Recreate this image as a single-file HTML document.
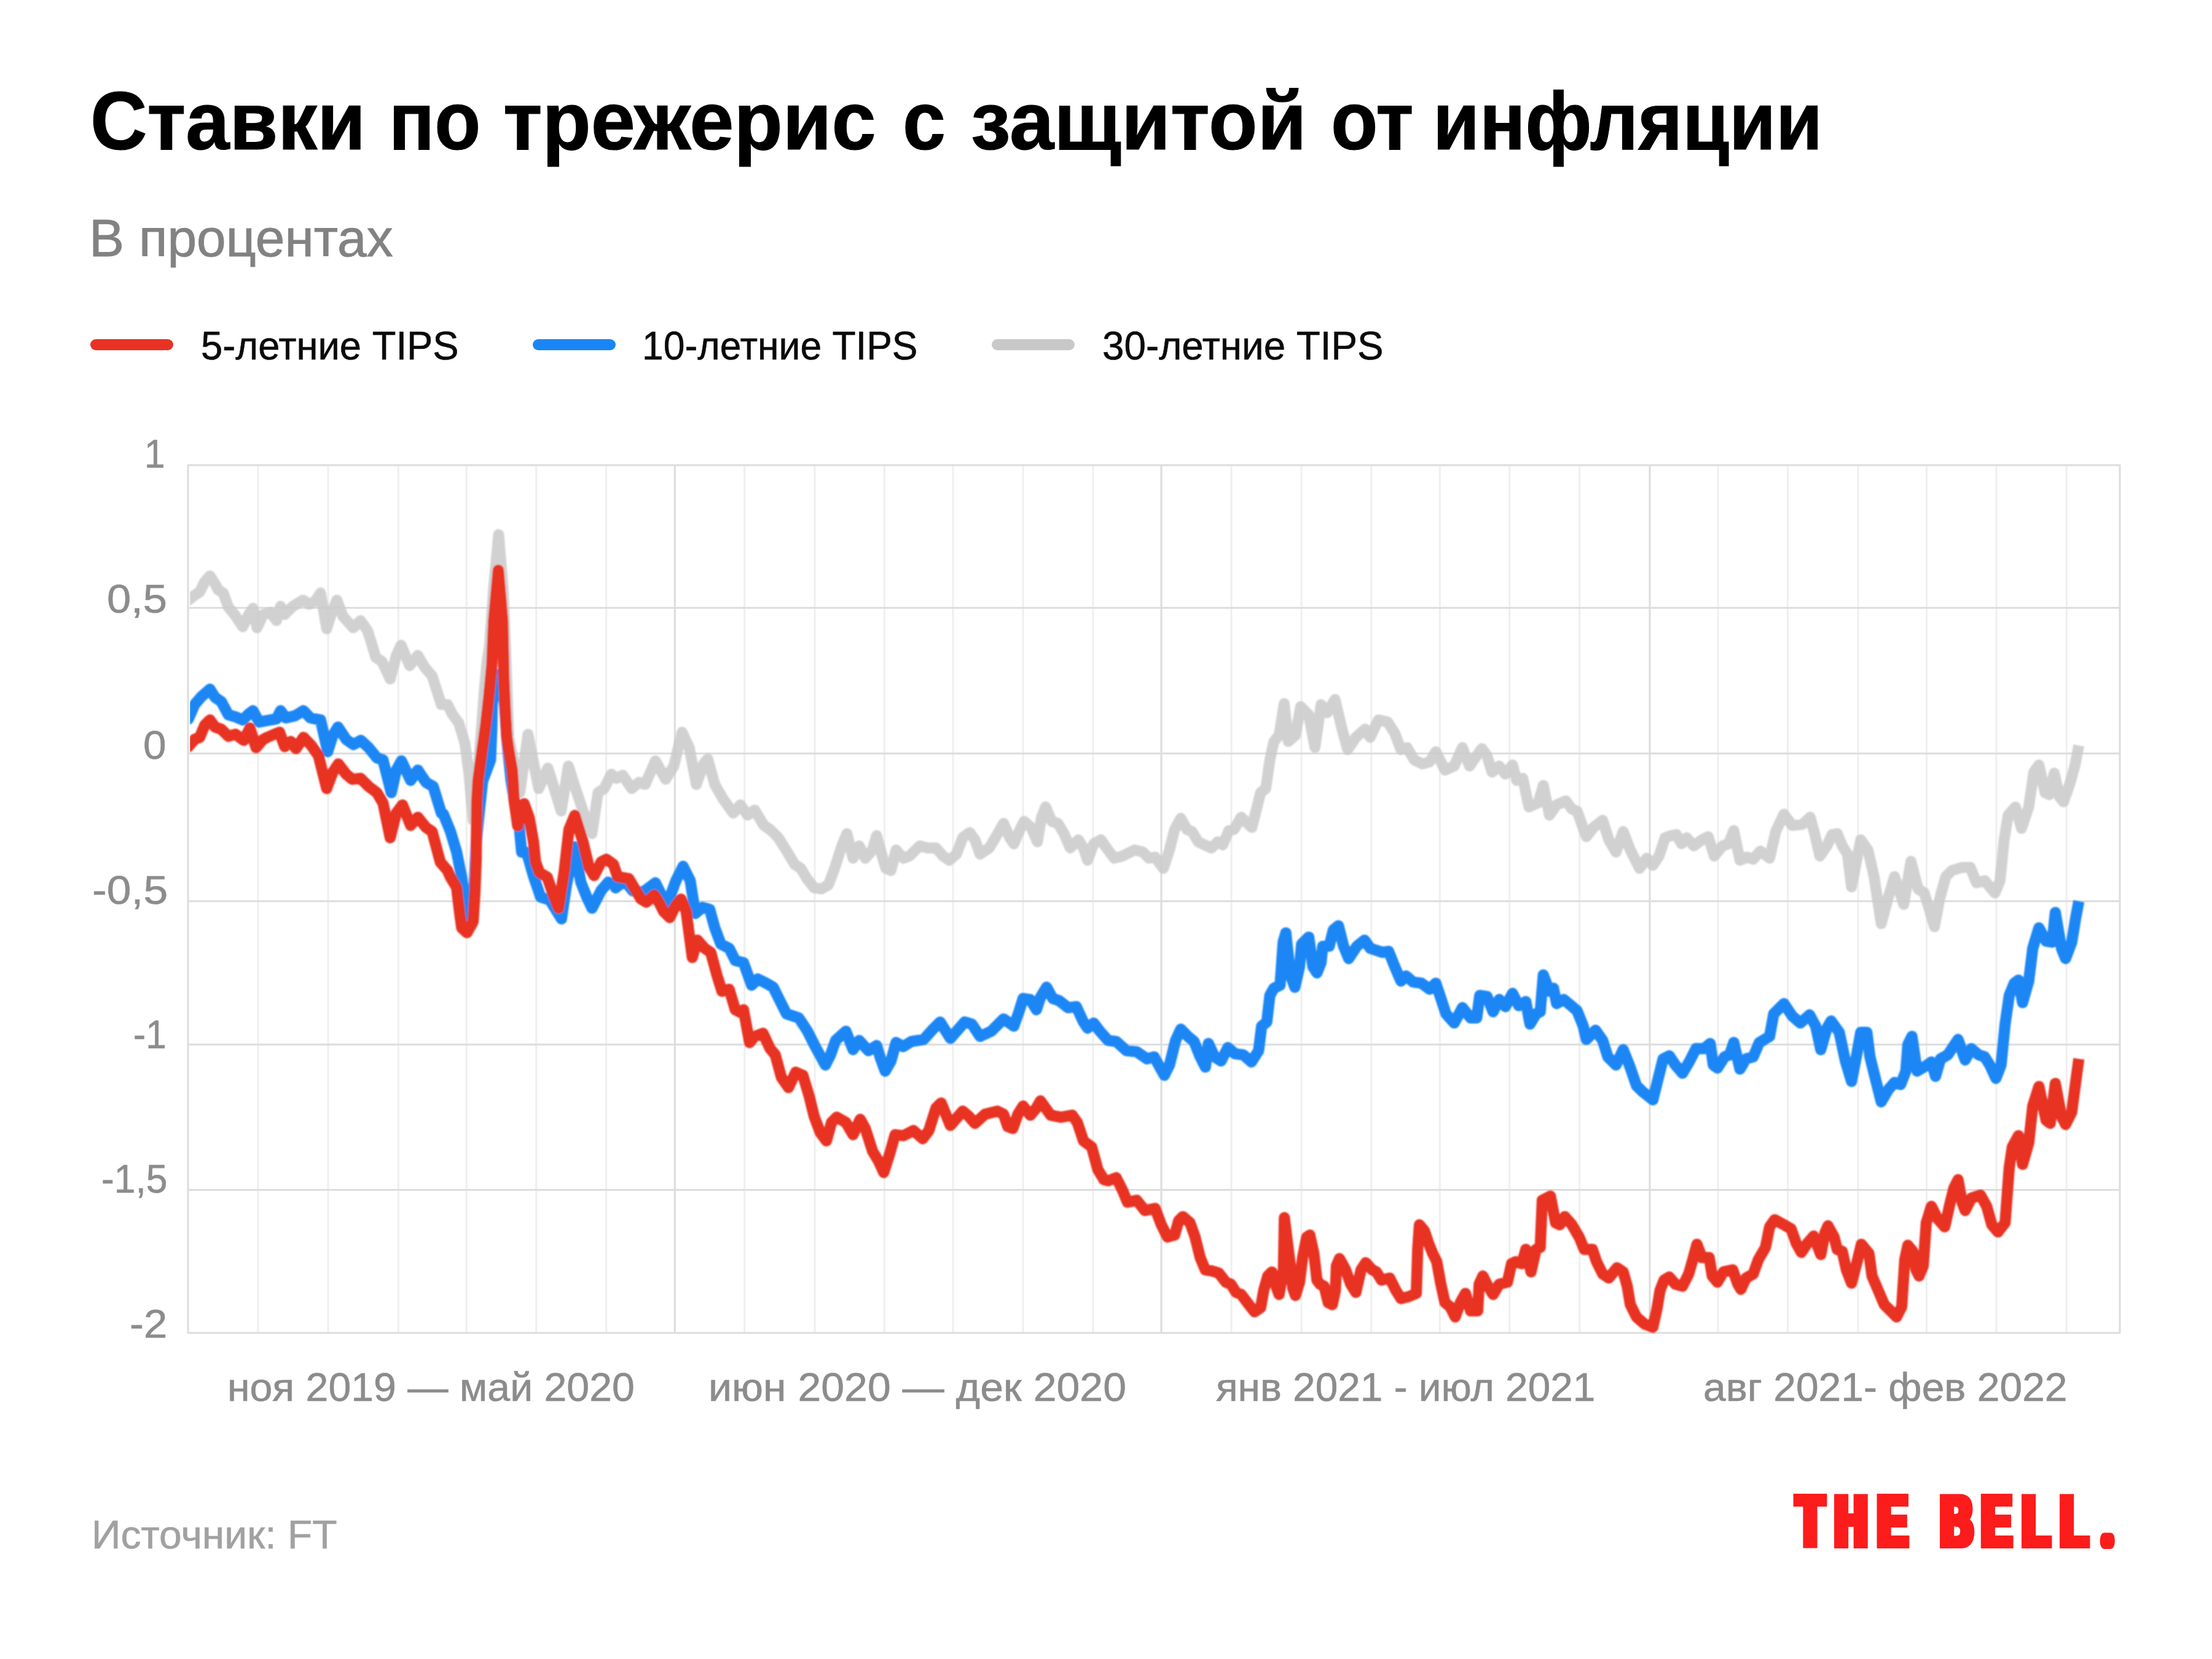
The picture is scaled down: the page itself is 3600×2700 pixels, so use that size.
<!DOCTYPE html>
<html lang="ru">
<head>
<meta charset="utf-8">
<title>Ставки по трежерис с защитой от инфляции</title>
<style>
html,body{margin:0;padding:0;background:#fff;}
body{width:3600px;height:2700px;position:relative;overflow:hidden;font-family:"Liberation Sans",sans-serif;}
.t{position:absolute;white-space:nowrap;line-height:1;transform-origin:0 0;}
.b{-webkit-text-stroke:1.2px #000;}
.r{-webkit-text-stroke:0.6px currentColor;}
.r2{-webkit-text-stroke:0.9px currentColor;}
.sw{position:absolute;height:18px;width:135px;border-radius:9px;top:551.6px;}
svg{position:absolute;left:0;top:0;}
</style>
</head>
<body>
<div class="t b" id="t1" style="left:147.3px;top:129.8px;font-size:134px;font-weight:bold;color:#000;transform:scaleX(0.9558)">Ставки</div>
<div class="t b" id="t2" style="left:632.8px;top:129.8px;font-size:134px;font-weight:bold;color:#000;transform:scaleX(0.9161)">по</div>
<div class="t b" id="t3" style="left:819.1px;top:129.8px;font-size:134px;font-weight:bold;color:#000;transform:scaleX(0.9677)">трежерис</div>
<div class="t b" id="t4" style="left:1468.8px;top:129.8px;font-size:134px;font-weight:bold;color:#000;transform:scaleX(0.9385)">с</div>
<div class="t b" id="t5" style="left:1579.6px;top:129.8px;font-size:134px;font-weight:bold;color:#000;transform:scaleX(0.9709)">защитой</div>
<div class="t b" id="t6" style="left:2165.8px;top:129.8px;font-size:134px;font-weight:bold;color:#000;transform:scaleX(0.9333)">от</div>
<div class="t b" id="t7" style="left:2331.7px;top:129.8px;font-size:134px;font-weight:bold;color:#000;transform:scaleX(0.9223)">инфляции</div>
<div class="t r2" id="sub" style="left:145.2px;top:344.0px;font-size:86px;font-weight:normal;color:#828282;transform:scaleX(0.9965)">В процентах</div>
<div class="t r" id="lg1" style="left:327.1px;top:529.8px;font-size:65px;font-weight:normal;color:#0a0a0a;transform:scaleX(0.9748)">5-летние TIPS</div>
<div class="t r" id="lg2" style="left:1044.7px;top:529.8px;font-size:65px;font-weight:normal;color:#0a0a0a;transform:scaleX(0.9614)">10-летние TIPS</div>
<div class="t r" id="lg3" style="left:1793.8px;top:529.8px;font-size:65px;font-weight:normal;color:#0a0a0a;transform:scaleX(0.9807)">30-летние TIPS</div>
<div class="t r" id="x1" style="left:369.7px;top:2224.7px;font-size:65px;font-weight:normal;color:#8c8c8c;transform:scaleX(1.0184)">ноя 2019 — май 2020</div>
<div class="t r" id="x2" style="left:1152.8px;top:2224.7px;font-size:65px;font-weight:normal;color:#8c8c8c;transform:scaleX(1.0463)">июн 2020 — дек 2020</div>
<div class="t r" id="x3" style="left:1979.0px;top:2224.7px;font-size:65px;font-weight:normal;color:#8c8c8c;transform:scaleX(1.0116)">янв 2021 - июл 2021</div>
<div class="t r" id="x4" style="left:2771.7px;top:2224.7px;font-size:65px;font-weight:normal;color:#8c8c8c;transform:scaleX(1.0154)">авг 2021- фев 2022</div>
<div class="t r" id="src" style="left:149.1px;top:2464.8px;font-size:65px;font-weight:normal;color:#a2a0a1;transform:scaleX(1.0168)">Источник: FT</div>
<div class="t r" id="y0" style="left:235.3px;top:705.8px;font-size:65px;font-weight:normal;color:#8c8c8c;transform:scaleX(0.9300)">1</div>
<div class="t r" id="y1" style="left:174.0px;top:941.6px;font-size:65px;font-weight:normal;color:#8c8c8c;transform:scaleX(1.0847)">0,5</div>
<div class="t r" id="y2" style="left:232.9px;top:1179.5px;font-size:65px;font-weight:normal;color:#8c8c8c;transform:scaleX(1.0387)">0</div>
<div class="t r" id="y3" style="left:149.7px;top:1416.0px;font-size:65px;font-weight:normal;color:#8c8c8c;transform:scaleX(1.1000)">-0,5</div>
<div class="t r" id="y4" style="left:216.5px;top:1651.0px;font-size:65px;font-weight:normal;color:#8c8c8c;transform:scaleX(0.9300)">-1</div>
<div class="t r" id="y5" style="left:164.9px;top:1886.2px;font-size:65px;font-weight:normal;color:#8c8c8c;transform:scaleX(0.9604)">-1,5</div>
<div class="t r" id="y6" style="left:211.0px;top:2122.1px;font-size:65px;font-weight:normal;color:#8c8c8c;transform:scaleX(1.0596)">-2</div>
<div class="sw" style="left:146.8px;background:#e83223"></div>
<div class="sw" style="left:866.5px;background:#1a86f5"></div>
<div class="sw" style="left:1613.7px;background:#c8c8c8"></div>
<svg width="3600" height="2700" viewBox="0 0 3600 2700">
<g id="grid">
<line x1="420.0" y1="757" x2="420.0" y2="2169.3" stroke="#efefef" stroke-width="3"/>
<line x1="534.0" y1="757" x2="534.0" y2="2169.3" stroke="#efefef" stroke-width="3"/>
<line x1="648.3" y1="757" x2="648.3" y2="2169.3" stroke="#efefef" stroke-width="3"/>
<line x1="759.3" y1="757" x2="759.3" y2="2169.3" stroke="#efefef" stroke-width="3"/>
<line x1="872.7" y1="757" x2="872.7" y2="2169.3" stroke="#efefef" stroke-width="3"/>
<line x1="986.7" y1="757" x2="986.7" y2="2169.3" stroke="#efefef" stroke-width="3"/>
<line x1="1211.7" y1="757" x2="1211.7" y2="2169.3" stroke="#efefef" stroke-width="3"/>
<line x1="1326.0" y1="757" x2="1326.0" y2="2169.3" stroke="#efefef" stroke-width="3"/>
<line x1="1439.3" y1="757" x2="1439.3" y2="2169.3" stroke="#efefef" stroke-width="3"/>
<line x1="1551.0" y1="757" x2="1551.0" y2="2169.3" stroke="#efefef" stroke-width="3"/>
<line x1="1665.0" y1="757" x2="1665.0" y2="2169.3" stroke="#efefef" stroke-width="3"/>
<line x1="1779.0" y1="757" x2="1779.0" y2="2169.3" stroke="#efefef" stroke-width="3"/>
<line x1="2004.0" y1="757" x2="2004.0" y2="2169.3" stroke="#efefef" stroke-width="3"/>
<line x1="2118.0" y1="757" x2="2118.0" y2="2169.3" stroke="#efefef" stroke-width="3"/>
<line x1="2231.7" y1="757" x2="2231.7" y2="2169.3" stroke="#efefef" stroke-width="3"/>
<line x1="2343.3" y1="757" x2="2343.3" y2="2169.3" stroke="#efefef" stroke-width="3"/>
<line x1="2456.7" y1="757" x2="2456.7" y2="2169.3" stroke="#efefef" stroke-width="3"/>
<line x1="2570.7" y1="757" x2="2570.7" y2="2169.3" stroke="#efefef" stroke-width="3"/>
<line x1="2796.0" y1="757" x2="2796.0" y2="2169.3" stroke="#efefef" stroke-width="3"/>
<line x1="2909.5" y1="757" x2="2909.5" y2="2169.3" stroke="#efefef" stroke-width="3"/>
<line x1="3024.0" y1="757" x2="3024.0" y2="2169.3" stroke="#efefef" stroke-width="3"/>
<line x1="3135.5" y1="757" x2="3135.5" y2="2169.3" stroke="#efefef" stroke-width="3"/>
<line x1="3249.0" y1="757" x2="3249.0" y2="2169.3" stroke="#efefef" stroke-width="3"/>
<line x1="3363.3" y1="757" x2="3363.3" y2="2169.3" stroke="#efefef" stroke-width="3"/>
<line x1="304.8" y1="757.0" x2="3451.2" y2="757.0" stroke="#dddddd" stroke-width="3.1"/>
<line x1="304.8" y1="989.3" x2="3451.2" y2="989.3" stroke="#dddddd" stroke-width="3.1"/>
<line x1="304.8" y1="1226.3" x2="3451.2" y2="1226.3" stroke="#dddddd" stroke-width="3.1"/>
<line x1="304.8" y1="1466.7" x2="3451.2" y2="1466.7" stroke="#dddddd" stroke-width="3.1"/>
<line x1="304.8" y1="1700.0" x2="3451.2" y2="1700.0" stroke="#dddddd" stroke-width="3.1"/>
<line x1="304.8" y1="1936.5" x2="3451.2" y2="1936.5" stroke="#dddddd" stroke-width="3.1"/>
<line x1="304.8" y1="2169.3" x2="3451.2" y2="2169.3" stroke="#dddddd" stroke-width="3.1"/>
<line x1="306.0" y1="757" x2="306.0" y2="2169.3" stroke="#dddddd" stroke-width="3.1"/>
<line x1="1098.3" y1="757" x2="1098.3" y2="2169.3" stroke="#dddddd" stroke-width="3.1"/>
<line x1="1890.0" y1="757" x2="1890.0" y2="2169.3" stroke="#dddddd" stroke-width="3.1"/>
<line x1="2685.0" y1="757" x2="2685.0" y2="2169.3" stroke="#dddddd" stroke-width="3.1"/>
<line x1="3450.0" y1="757" x2="3450.0" y2="2169.3" stroke="#dddddd" stroke-width="3.1"/>
</g>
<defs><filter id="soft" filterUnits="userSpaceOnUse" x="250" y="700" width="3250" height="1520"><feGaussianBlur stdDeviation="1.1"/></filter></defs>
<clipPath id="plot"><rect x="309.3" y="700" width="3160" height="1520"/></clipPath>
<g clip-path="url(#plot)"><g id="lines" filter="url(#soft)">
<path d="M300.0 976.7 L306.7 976.7 L315.0 970.0 L325.0 963.3 L333.3 946.7 L341.7 937.3 L350.0 950.0 L355.0 960.0 L363.3 965.0 L371.7 988.3 L381.7 1000.0 L395.0 1020.0 L405.0 1000.0 L411.7 990.0 L418.3 1021.7 L428.3 1000.0 L440.0 996.7 L450.0 1010.0 L456.7 986.7 L463.3 1000.0 L476.7 986.7 L493.3 976.7 L503.3 983.3 L513.3 978.3 L521.7 965.0 L531.7 1023.3 L540.0 996.7 L548.3 976.7 L558.3 1003.3 L575.0 1021.7 L586.7 1010.0 L598.3 1026.7 L611.7 1070.0 L621.7 1076.7 L635.0 1105.0 L645.0 1066.7 L652.7 1050.0 L666.7 1083.3 L680.0 1066.7 L691.7 1086.7 L703.3 1100.0 L718.3 1146.7 L728.3 1146.7 L736.7 1163.3 L746.7 1176.7 L756.7 1210.0 L763.3 1260.0 L770.0 1335.0 L775.0 1290.0 L780.5 1226.0 L784.6 1172.0 L788.7 1118.0 L792.7 1077.0 L796.8 1050.0 L803.0 960.0 L811.5 870.0 L819.0 960.0 L823.0 1060.0 L828.0 1200.0 L846.0 1290.0 L859.3 1195.0 L876.7 1283.3 L891.7 1250.0 L913.3 1320.0 L925.0 1246.7 L936.7 1283.3 L950.0 1323.3 L963.3 1356.7 L973.3 1290.0 L983.3 1283.3 L995.0 1260.0 L1003.3 1266.7 L1013.3 1261.7 L1028.3 1283.3 L1040.0 1273.3 L1050.0 1276.7 L1066.7 1238.3 L1083.3 1268.3 L1096.7 1246.7 L1110.0 1191.7 L1121.7 1216.7 L1133.3 1276.7 L1145.0 1243.3 L1151.7 1235.0 L1163.3 1276.7 L1176.7 1300.0 L1193.3 1323.3 L1205.0 1310.0 L1216.7 1326.7 L1228.3 1318.3 L1243.3 1343.3 L1253.3 1350.0 L1266.7 1363.3 L1283.3 1390.0 L1293.3 1406.7 L1303.3 1413.3 L1313.3 1430.0 L1325.0 1445.0 L1336.7 1446.7 L1348.3 1440.0 L1358.3 1413.3 L1370.0 1376.7 L1378.3 1356.7 L1388.3 1396.7 L1398.3 1376.7 L1408.3 1396.7 L1420.0 1383.3 L1426.7 1360.0 L1436.7 1396.7 L1441.7 1413.3 L1450.0 1416.7 L1458.3 1383.3 L1470.0 1396.7 L1480.0 1393.3 L1496.7 1376.7 L1510.0 1380.0 L1523.3 1380.0 L1535.0 1393.3 L1545.0 1400.0 L1556.7 1390.0 L1566.7 1363.3 L1578.3 1355.0 L1586.7 1366.7 L1595.0 1390.0 L1610.0 1380.0 L1620.0 1363.3 L1633.3 1340.0 L1643.3 1363.3 L1650.0 1373.3 L1660.0 1350.0 L1666.7 1336.7 L1678.3 1346.7 L1688.3 1370.0 L1695.0 1330.0 L1701.7 1313.3 L1711.7 1336.7 L1721.7 1340.0 L1731.7 1356.7 L1741.7 1380.0 L1755.0 1366.7 L1763.3 1380.0 L1770.0 1400.0 L1780.0 1373.3 L1791.7 1366.7 L1803.3 1383.3 L1813.3 1396.7 L1826.7 1393.3 L1846.7 1383.3 L1860.0 1386.7 L1870.0 1396.7 L1880.0 1395.0 L1893.3 1413.3 L1903.3 1383.3 L1911.7 1350.0 L1921.7 1331.7 L1931.7 1350.0 L1940.0 1353.3 L1950.0 1370.0 L1960.0 1375.0 L1971.7 1380.0 L1981.7 1370.0 L1990.0 1375.0 L2000.0 1351.7 L2008.3 1350.0 L2020.0 1330.0 L2030.0 1340.0 L2037.3 1346.7 L2045.0 1316.7 L2051.7 1290.0 L2060.0 1283.3 L2066.7 1236.7 L2073.3 1206.7 L2081.7 1196.7 L2090.0 1145.0 L2096.7 1206.7 L2108.3 1196.7 L2116.7 1150.0 L2130.0 1163.3 L2140.0 1216.7 L2150.0 1146.7 L2160.0 1160.0 L2172.7 1138.3 L2183.3 1183.3 L2193.3 1220.0 L2206.7 1200.0 L2221.7 1186.7 L2230.0 1200.0 L2243.3 1171.7 L2258.3 1175.0 L2270.0 1193.3 L2280.0 1220.0 L2290.0 1216.7 L2301.7 1236.7 L2315.0 1243.3 L2326.7 1240.0 L2336.7 1223.3 L2351.7 1253.3 L2366.7 1246.7 L2380.0 1216.7 L2391.7 1246.7 L2403.3 1230.0 L2411.7 1218.3 L2420.0 1230.0 L2428.3 1256.7 L2440.0 1246.7 L2450.0 1260.0 L2461.7 1245.0 L2468.3 1270.0 L2478.3 1266.7 L2488.3 1313.3 L2503.3 1306.7 L2511.7 1278.3 L2521.7 1326.7 L2533.3 1310.0 L2548.3 1303.3 L2558.3 1316.7 L2566.7 1320.0 L2581.7 1361.7 L2593.3 1346.7 L2608.3 1335.0 L2618.3 1366.7 L2630.0 1386.7 L2641.7 1353.3 L2653.3 1383.3 L2668.3 1413.3 L2680.0 1396.7 L2690.0 1408.3 L2700.0 1393.3 L2710.0 1363.3 L2720.0 1360.0 L2728.3 1358.3 L2736.7 1373.3 L2745.0 1363.3 L2756.7 1376.7 L2770.0 1366.7 L2780.0 1361.7 L2790.0 1393.3 L2803.3 1376.7 L2813.3 1373.3 L2821.7 1351.7 L2831.7 1400.0 L2843.3 1395.0 L2853.3 1398.3 L2865.0 1385.0 L2880.0 1396.7 L2890.0 1353.3 L2903.3 1325.0 L2916.7 1343.3 L2933.3 1341.7 L2946.0 1330.0 L2953.3 1356.7 L2961.7 1393.3 L2973.3 1376.7 L2981.7 1358.3 L2990.0 1356.7 L2998.3 1376.7 L3006.7 1390.0 L3013.3 1443.3 L3021.7 1400.0 L3028.3 1366.7 L3040.0 1383.3 L3050.0 1426.7 L3061.7 1503.3 L3073.3 1460.0 L3083.3 1426.7 L3098.3 1471.7 L3110.0 1401.7 L3121.7 1446.7 L3131.7 1453.3 L3140.0 1480.0 L3148.3 1508.3 L3156.7 1463.3 L3166.7 1426.7 L3176.7 1416.7 L3193.3 1411.7 L3206.7 1411.7 L3216.7 1436.7 L3230.0 1433.3 L3246.7 1453.3 L3255.0 1433.3 L3261.7 1366.7 L3268.3 1326.7 L3280.0 1313.3 L3290.0 1348.3 L3301.7 1313.3 L3310.0 1256.7 L3318.3 1245.0 L3328.3 1290.0 L3335.0 1293.3 L3343.3 1258.3 L3351.7 1296.7 L3358.3 1305.0 L3368.3 1276.7 L3376.7 1246.7 L3383.3 1213.3" fill="none" stroke="#cacaca" stroke-width="17.8" stroke-linejoin="round" stroke-linecap="butt" opacity="0.86"/>
<path d="M300.0 1170.0 L306.7 1170.0 L316.7 1146.7 L328.3 1133.3 L341.7 1121.7 L350.0 1135.0 L360.0 1141.7 L371.7 1163.3 L383.3 1166.7 L395.0 1171.7 L405.0 1161.7 L411.7 1156.7 L421.7 1175.0 L440.0 1171.7 L450.0 1170.0 L456.7 1156.7 L465.0 1168.3 L480.0 1165.0 L494.0 1156.7 L505.0 1168.3 L521.7 1171.7 L533.3 1223.3 L541.7 1196.7 L550.0 1183.3 L563.3 1203.3 L575.0 1211.7 L587.3 1205.0 L600.0 1216.7 L613.3 1233.3 L623.3 1236.7 L636.7 1290.0 L645.0 1253.3 L653.3 1238.3 L668.3 1270.0 L680.0 1253.3 L693.3 1273.3 L705.0 1280.0 L718.3 1323.3 L721.5 1324.7 L733.0 1353.0 L743.0 1386.0 L751.4 1427.5 L761.0 1495.0 L770.3 1469.0 L772.0 1435.8 L775.2 1369.5 L780.2 1319.7 L785.5 1271.0 L798.3 1237.0 L800.5 1185.0 L801.2 1145.0 L805.0 1115.0 L811.0 1098.0 L818.0 1112.0 L822.0 1160.0 L825.5 1210.0 L831.7 1270.0 L838.3 1311.0 L845.0 1345.0 L849.0 1387.0 L857.0 1387.0 L868.0 1425.0 L879.8 1459.8 L895.0 1465.0 L913.8 1495.4 L922.0 1440.0 L934.5 1378.0 L945.3 1435.8 L955.0 1460.0 L963.5 1478.0 L978.5 1449.0 L990.0 1435.8 L1000.0 1440.7 L1001.7 1445.0 L1016.7 1433.3 L1030.0 1450.0 L1046.7 1451.7 L1066.7 1436.7 L1076.7 1456.7 L1086.7 1470.0 L1100.0 1433.3 L1111.7 1410.0 L1123.3 1433.3 L1131.7 1486.7 L1143.3 1476.7 L1155.0 1480.0 L1163.3 1510.0 L1173.3 1536.7 L1186.7 1543.3 L1196.7 1563.3 L1210.0 1566.7 L1223.3 1603.3 L1233.3 1593.3 L1246.7 1600.0 L1258.3 1606.7 L1270.0 1630.0 L1280.0 1650.0 L1300.0 1656.7 L1313.3 1676.7 L1326.7 1703.0 L1343.3 1733.3 L1351.7 1716.7 L1360.0 1693.3 L1376.7 1678.3 L1388.3 1708.3 L1398.3 1693.3 L1413.3 1710.0 L1426.7 1701.7 L1433.3 1723.3 L1440.7 1743.3 L1450.0 1726.7 L1458.3 1696.7 L1470.0 1703.3 L1483.3 1695.0 L1503.3 1691.7 L1516.7 1676.7 L1530.0 1663.3 L1546.7 1690.0 L1558.3 1676.7 L1570.0 1663.3 L1581.7 1666.7 L1595.0 1686.7 L1613.3 1678.3 L1633.3 1658.3 L1650.0 1670.0 L1658.3 1646.7 L1665.0 1625.0 L1676.7 1626.7 L1686.7 1643.3 L1693.3 1623.3 L1703.3 1606.7 L1713.3 1625.0 L1723.3 1628.3 L1738.3 1640.0 L1751.7 1638.3 L1763.3 1663.3 L1770.0 1673.3 L1780.0 1665.0 L1790.0 1678.3 L1803.3 1693.3 L1816.7 1695.0 L1833.3 1710.0 L1850.0 1711.7 L1866.7 1723.3 L1878.3 1720.0 L1895.0 1750.0 L1903.3 1733.3 L1913.3 1693.3 L1921.7 1675.0 L1933.3 1686.7 L1943.3 1695.0 L1953.3 1720.0 L1961.7 1736.7 L1966.7 1698.3 L1976.7 1720.0 L1987.3 1726.7 L1998.3 1705.0 L2010.0 1715.0 L2023.3 1716.7 L2036.7 1728.3 L2048.3 1710.0 L2053.3 1670.0 L2061.7 1663.3 L2066.7 1620.0 L2073.3 1608.3 L2083.3 1603.3 L2088.3 1533.3 L2092.7 1518.3 L2100.0 1586.7 L2107.3 1606.7 L2115.0 1573.3 L2118.3 1536.7 L2130.0 1525.0 L2136.7 1573.3 L2143.3 1583.3 L2150.0 1566.7 L2152.7 1540.0 L2163.3 1540.0 L2170.0 1513.3 L2178.3 1506.7 L2186.7 1540.0 L2195.0 1560.0 L2208.3 1540.0 L2220.7 1530.0 L2230.0 1543.3 L2240.0 1546.7 L2250.0 1550.0 L2260.0 1548.3 L2270.0 1573.3 L2280.0 1596.7 L2288.3 1588.3 L2300.0 1598.3 L2313.3 1600.0 L2326.7 1610.0 L2336.7 1600.0 L2346.7 1630.0 L2353.3 1650.0 L2366.7 1665.0 L2380.0 1640.0 L2393.3 1656.7 L2403.3 1656.7 L2408.3 1620.0 L2420.0 1621.7 L2430.0 1646.7 L2440.0 1626.7 L2450.0 1638.3 L2461.7 1616.7 L2471.7 1636.7 L2483.3 1630.0 L2490.0 1666.7 L2500.0 1650.0 L2506.7 1646.7 L2511.7 1586.7 L2521.7 1613.3 L2528.3 1608.3 L2533.3 1633.3 L2545.0 1626.7 L2555.0 1635.0 L2566.7 1645.0 L2576.7 1670.0 L2581.7 1691.7 L2596.7 1676.7 L2608.3 1693.3 L2616.7 1720.0 L2630.0 1733.3 L2641.7 1708.3 L2651.7 1733.3 L2663.3 1766.7 L2673.3 1776.7 L2690.0 1790.0 L2700.0 1750.0 L2706.7 1723.3 L2716.7 1718.3 L2726.7 1733.3 L2738.3 1746.7 L2750.0 1726.7 L2760.0 1706.7 L2773.3 1706.7 L2783.3 1698.3 L2788.3 1733.3 L2795.0 1738.3 L2806.7 1720.0 L2815.0 1716.7 L2821.7 1696.7 L2831.7 1740.0 L2841.7 1723.3 L2853.3 1720.0 L2863.3 1696.7 L2880.0 1686.7 L2886.7 1650.0 L2903.3 1633.3 L2916.7 1653.3 L2930.0 1665.0 L2945.0 1651.7 L2955.0 1670.0 L2963.3 1708.3 L2973.3 1673.3 L2980.0 1661.7 L2993.3 1680.0 L3003.3 1726.7 L3013.3 1760.0 L3021.7 1716.7 L3028.3 1680.0 L3038.3 1680.0 L3043.3 1720.0 L3053.3 1760.0 L3061.7 1793.3 L3073.3 1773.3 L3083.3 1761.7 L3093.3 1765.0 L3101.7 1743.3 L3105.0 1700.0 L3111.7 1686.7 L3120.0 1743.3 L3136.7 1733.3 L3143.3 1728.3 L3150.0 1751.7 L3158.3 1723.3 L3170.0 1716.7 L3186.7 1691.7 L3198.3 1725.0 L3208.3 1706.7 L3220.0 1716.7 L3230.0 1720.0 L3238.3 1733.3 L3248.3 1755.0 L3256.7 1733.3 L3263.3 1666.7 L3270.0 1620.0 L3278.3 1600.0 L3285.0 1595.0 L3291.7 1631.7 L3301.7 1596.7 L3308.3 1543.3 L3318.3 1510.0 L3330.0 1531.7 L3340.0 1533.3 L3345.0 1485.0 L3355.0 1543.3 L3361.7 1560.0 L3371.7 1533.3 L3378.3 1493.3 L3383.3 1466.7" fill="none" stroke="#1a86f5" stroke-width="18.2" stroke-linejoin="round" stroke-linecap="butt"/>
<path d="M300.0 1215.0 L306.7 1215.0 L316.7 1203.3 L325.0 1200.0 L333.3 1180.0 L341.7 1171.7 L350.0 1183.3 L360.0 1186.7 L371.7 1198.3 L383.3 1195.0 L396.7 1205.0 L406.7 1185.0 L416.7 1216.7 L428.3 1203.3 L435.0 1200.0 L446.7 1195.0 L455.0 1191.7 L463.3 1215.0 L473.3 1206.7 L481.7 1218.3 L494.0 1200.0 L506.7 1213.3 L518.3 1230.0 L531.7 1283.3 L541.7 1256.7 L550.7 1243.3 L563.3 1260.0 L573.3 1268.3 L586.7 1266.7 L600.0 1280.0 L613.3 1290.0 L623.3 1306.7 L635.0 1363.3 L645.0 1323.3 L655.0 1310.0 L668.3 1343.3 L680.0 1330.0 L693.3 1346.7 L703.3 1353.3 L716.7 1403.3 L728.3 1416.7 L733.0 1427.5 L743.0 1444.0 L748.0 1485.5 L751.4 1510.0 L760.0 1518.0 L770.0 1500.0 L773.0 1452.0 L775.0 1400.0 L776.0 1303.0 L778.0 1270.0 L784.0 1226.0 L790.5 1180.0 L795.5 1135.0 L800.5 1082.0 L803.5 1010.0 L811.0 928.0 L818.0 1010.0 L820.0 1104.0 L822.4 1158.5 L824.6 1199.0 L828.8 1226.3 L833.6 1253.4 L835.2 1275.0 L836.7 1303.0 L842.5 1344.0 L853.0 1308.0 L861.0 1330.0 L868.2 1369.5 L871.6 1402.6 L878.0 1420.0 L890.6 1427.5 L900.0 1455.0 L908.9 1478.0 L918.0 1420.0 L926.0 1350.0 L935.4 1327.2 L948.6 1369.5 L958.6 1411.0 L966.9 1425.0 L978.5 1402.6 L986.8 1398.5 L998.3 1406.7 L1005.0 1426.7 L1023.3 1430.0 L1033.3 1446.7 L1043.3 1463.3 L1051.7 1468.3 L1065.0 1456.7 L1073.3 1470.0 L1080.0 1483.3 L1090.0 1493.3 L1100.0 1473.3 L1108.3 1463.3 L1116.7 1483.3 L1126.7 1558.3 L1135.0 1530.0 L1146.7 1543.3 L1156.7 1550.0 L1166.7 1586.7 L1175.0 1613.3 L1186.7 1610.0 L1196.7 1643.3 L1210.0 1650.0 L1210.0 1643.3 L1220.0 1696.7 L1228.3 1686.7 L1241.7 1681.7 L1253.3 1706.7 L1261.7 1716.7 L1271.7 1753.3 L1283.3 1770.0 L1295.0 1745.0 L1306.7 1750.0 L1316.7 1783.3 L1325.0 1816.7 L1335.0 1843.3 L1345.0 1856.7 L1353.3 1826.7 L1361.7 1818.3 L1376.7 1826.7 L1388.3 1846.7 L1400.0 1821.7 L1408.3 1836.7 L1420.0 1873.3 L1430.0 1890.0 L1438.3 1908.3 L1448.3 1876.7 L1456.7 1846.7 L1470.0 1848.3 L1486.7 1840.0 L1501.7 1853.3 L1511.7 1840.0 L1523.3 1803.3 L1531.7 1795.0 L1546.7 1831.7 L1556.7 1820.0 L1566.7 1808.3 L1576.7 1816.7 L1586.7 1828.3 L1603.3 1813.3 L1623.3 1808.3 L1633.3 1813.3 L1640.0 1833.3 L1648.3 1836.7 L1656.7 1813.3 L1665.0 1800.0 L1676.7 1815.0 L1686.7 1803.3 L1693.3 1791.7 L1710.0 1815.0 L1726.7 1818.3 L1745.0 1815.0 L1753.3 1826.7 L1763.3 1856.7 L1776.7 1866.7 L1786.7 1903.3 L1796.7 1920.0 L1803.3 1921.7 L1816.7 1916.7 L1826.7 1936.7 L1835.0 1956.7 L1850.0 1953.3 L1863.3 1970.0 L1880.0 1966.7 L1890.0 1993.3 L1900.0 2013.3 L1911.7 2010.0 L1918.3 1986.7 L1925.0 1980.0 L1936.7 1990.0 L1945.0 2013.3 L1953.3 2046.7 L1961.7 2066.7 L1971.7 2068.3 L1983.3 2071.7 L1995.0 2086.7 L2003.3 2090.0 L2011.7 2103.3 L2020.0 2106.7 L2030.0 2120.0 L2041.7 2135.0 L2051.7 2128.3 L2056.7 2100.0 L2063.3 2076.7 L2070.0 2070.0 L2076.7 2093.3 L2081.7 2106.7 L2088.7 2066.7 L2090.3 1981.7 L2096.7 2033.3 L2101.0 2066.7 L2104.0 2096.7 L2108.3 2108.3 L2115.0 2086.7 L2120.0 2046.7 L2126.7 2013.3 L2131.7 2010.0 L2138.3 2040.0 L2143.3 2083.3 L2148.3 2090.0 L2155.0 2093.3 L2161.7 2120.0 L2168.3 2123.3 L2173.3 2100.0 L2175.0 2060.0 L2180.0 2048.3 L2190.0 2066.7 L2198.3 2090.0 L2206.7 2103.3 L2215.0 2066.7 L2222.7 2055.0 L2233.3 2066.7 L2240.0 2070.0 L2248.3 2083.3 L2261.7 2080.0 L2271.7 2100.0 L2280.0 2113.3 L2293.3 2110.0 L2305.0 2105.0 L2307.3 2033.3 L2310.0 1993.3 L2318.3 2003.3 L2325.0 2023.3 L2331.7 2040.0 L2338.3 2053.3 L2345.0 2090.0 L2351.7 2120.0 L2360.0 2126.7 L2368.3 2143.3 L2376.7 2120.0 L2385.0 2105.0 L2393.3 2133.3 L2405.0 2133.3 L2407.3 2090.0 L2413.3 2076.7 L2421.7 2093.3 L2430.0 2106.7 L2440.0 2090.0 L2453.3 2086.7 L2460.0 2056.7 L2466.7 2053.3 L2476.7 2056.7 L2483.3 2033.3 L2491.7 2070.0 L2500.0 2033.3 L2506.7 2030.0 L2510.0 1953.3 L2523.3 1946.7 L2531.7 1990.0 L2538.3 1993.3 L2546.7 1980.0 L2558.3 1993.3 L2570.0 2013.3 L2578.3 2033.3 L2591.7 2033.3 L2598.3 2053.3 L2608.3 2073.3 L2618.3 2080.0 L2631.7 2063.3 L2641.7 2070.0 L2648.3 2093.3 L2653.3 2123.3 L2663.3 2143.3 L2676.7 2155.0 L2690.0 2160.0 L2696.7 2130.0 L2701.7 2100.0 L2708.3 2083.3 L2716.7 2078.3 L2726.7 2090.0 L2738.3 2093.3 L2748.3 2073.3 L2755.0 2050.0 L2761.7 2025.0 L2770.0 2046.7 L2781.7 2046.7 L2786.7 2076.7 L2795.0 2086.7 L2805.0 2070.0 L2820.0 2066.7 L2828.3 2090.0 L2833.3 2098.3 L2841.7 2080.0 L2853.3 2073.3 L2861.7 2050.0 L2873.3 2030.0 L2880.0 1996.7 L2888.3 1985.0 L2903.3 1993.3 L2915.0 2000.0 L2923.3 2023.3 L2931.7 2038.3 L2941.7 2023.3 L2951.7 2011.7 L2963.3 2041.7 L2970.0 2006.7 L2975.0 1995.0 L2985.0 2013.3 L2990.0 2033.3 L2998.3 2036.7 L3005.0 2066.7 L3013.3 2088.3 L3023.3 2050.0 L3029.3 2025.0 L3041.7 2040.0 L3046.7 2076.7 L3056.7 2100.0 L3066.7 2123.3 L3076.7 2133.3 L3086.7 2143.3 L3095.0 2126.7 L3100.0 2050.0 L3105.0 2026.7 L3113.3 2036.7 L3118.3 2066.7 L3123.3 2076.7 L3130.0 2060.0 L3135.0 1990.0 L3143.3 1963.3 L3153.3 1983.3 L3165.0 1996.7 L3173.3 1960.0 L3180.0 1933.3 L3186.7 1920.0 L3193.3 1956.7 L3198.3 1970.0 L3208.3 1950.0 L3223.3 1945.0 L3233.3 1963.3 L3241.7 1993.3 L3251.7 2005.0 L3263.3 1990.0 L3270.0 1900.0 L3275.0 1866.7 L3285.0 1848.3 L3291.7 1895.0 L3301.7 1860.0 L3308.3 1800.0 L3318.3 1768.3 L3330.0 1823.3 L3336.7 1828.3 L3345.0 1763.3 L3355.0 1816.7 L3361.7 1830.0 L3371.7 1810.0 L3378.3 1760.0 L3383.3 1723.3" fill="none" stroke="#e83223" stroke-width="18.2" stroke-linejoin="round" stroke-linecap="butt"/>
</g></g>
<defs><filter id="fat" filterUnits="userSpaceOnUse" x="2880" y="2400" width="600" height="160"><feMorphology operator="dilate" radius="4.0 0"/></filter></defs>
<g id="logo" filter="url(#fat)"><text transform="scale(0.6086 1)" x="4804.85 4907.58 5021.62 5081.62 5190.26 5299.87 5408.91 5510.78" y="2516.30" font-family="Liberation Sans, sans-serif" font-weight="bold" font-size="116.98" fill="#fc1a1a" stroke="#fc1a1a" stroke-width="8.0" stroke-linejoin="miter" stroke-miterlimit="10">THE BELL<tspan x="5631.48" y="2509.90" font-size="30.0" stroke-width="22.0" stroke-linejoin="round">.</tspan></text></g>
</svg>

</body>
</html>
